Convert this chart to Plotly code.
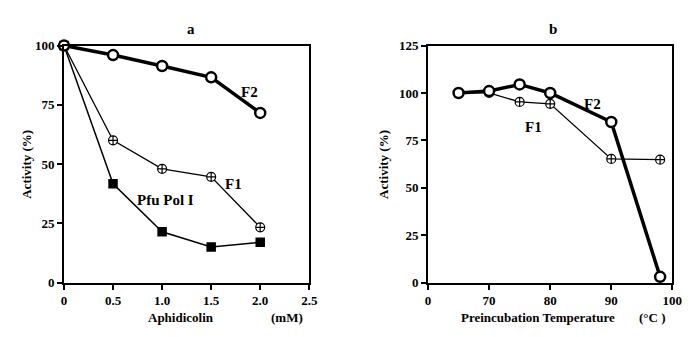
import plotly.graph_objects as go

# Panel a: Aphidicolin (mM)
aph_conc = [0, 0.5, 1.0, 1.5, 2.0]
a_f2 = [100, 96, 91.4, 86.6, 71.6]
a_f1 = [100, 60, 48, 44.6, 23.3]
a_pfu = [100, 41.7, 21.4, 15, 17]
a_xticks = [0, 0.5, 1.0, 1.5, 2.0, 2.5]
a_xticktext = ["0", "0.5", "1.0", "1.5", "2.0", "2.5"]
a_yticks = [0, 25, 50, 75, 100]

# Panel b: Preincubation temperature (°C)
temp = [65, 70, 75, 80, 90, 98]
b_f2 = [100, 101, 104.5, 100, 84.7, 3]
b_f1 = [100, 100, 95.3, 94.3, 65.2, 64.8]
b_xticks = [60, 70, 80, 90, 100]
b_xticktext = ["0", "70", "80", "90", "100"]
b_yticks = [0, 25, 50, 75, 100, 125]

FONT = "Liberation Serif"
fig = go.Figure()

def add(x, y, xa, ya, lw, sym, size, mlw, fill="white"):
    fig.add_trace(go.Scatter(
        x=x, y=y, xaxis=xa, yaxis=ya, mode="lines+markers",
        line=dict(color="black", width=lw),
        marker=dict(symbol=sym, size=size, color=fill,
                    line=dict(color="black", width=mlw)),
        cliponaxis=False, showlegend=False))

add(aph_conc, a_pfu, "x", "y", 1.5, "square-x", 8, 1.5, "black")
add(aph_conc, a_f1, "x", "y", 1.3, "circle-cross", 9, 1.2)
add(aph_conc, a_f2, "x", "y", 3.5, "circle", 10, 2.5)

add(temp, b_f1, "x2", "y2", 1.3, "circle-cross", 9, 1.2)
add(temp, b_f2, "x2", "y2", 3.5, "circle", 10, 2.5)

W, H = 692, 337
def px(v): return v / W
def py(v): return (H - v) / H

axis_common = dict(showline=True, mirror=True, linecolor="black", linewidth=2,
                   ticks="outside", ticklen=5, tickwidth=1.5, tickcolor="black",
                   showgrid=False, zeroline=False,
                   tickfont=dict(family=FONT, size=13, color="black", weight="bold"))

fig.update_layout(
    width=W, height=H, margin=dict(l=0, r=0, t=0, b=0),
    paper_bgcolor="white", plot_bgcolor="white",
    font=dict(family=FONT, color="black"),
    xaxis=dict(domain=[px(54), px(304)], range=[0, 2.5], anchor="y",
               tickvals=a_xticks, ticktext=a_xticktext, **axis_common),
    yaxis=dict(domain=[py(280), py(32)], range=[0, 100], anchor="x",
               tickvals=a_yticks, **axis_common),
    xaxis2=dict(domain=[px(425), px(674)], range=[60, 100], anchor="y2",
                tickvals=b_xticks, ticktext=b_xticktext, **axis_common),
    yaxis2=dict(domain=[py(280), py(32)], range=[0, 125], anchor="x2",
                tickvals=b_yticks, **axis_common),
)

bold = dict(family=FONT, size=15, color="black")
small = dict(family=FONT, size=13, color="black")
ann = [
    dict(text="<b>a</b>", x=px(183), y=py(15), xref="paper", yref="paper", font=bold),
    dict(text="<b>b</b>", x=px(552), y=py(15), xref="paper", yref="paper", font=bold),
    dict(text="<b>Activity (%)</b>", x=px(15), y=py(156), xref="paper", yref="paper",
         textangle=-90, font=small),
    dict(text="<b>Activity (%)</b>", x=px(379), y=py(156), xref="paper", yref="paper",
         textangle=-90, font=small),
    dict(text="<b>Aphidicolin</b>", x=px(173), y=py(317), xref="paper", yref="paper", font=small),
    dict(text="<b>(mM)</b>", x=px(281), y=py(317), xref="paper", yref="paper", font=small),
    dict(text="<b>Preincubation Temperature</b>", x=px(537), y=py(317), xref="paper", yref="paper", font=small),
    dict(text="<b>(°C )</b>", x=px(654), y=py(317), xref="paper", yref="paper", font=small),
    dict(text="<b>F2</b>", x=1.89, y=80.6, xref="x", yref="y", font=bold),
    dict(text="<b>F1</b>", x=1.73, y=41.5, xref="x", yref="y", font=bold),
    dict(text="<b>Pfu Pol I</b>", x=1.03, y=35, xref="x", yref="y", font=bold),
    dict(text="<b>F2</b>", x=87, y=94.3, xref="x2", yref="y2", font=bold),
    dict(text="<b>F1</b>", x=77.3, y=82, xref="x2", yref="y2", font=bold),
]
for a in ann:
    a.update(showarrow=False, xanchor="center", yanchor="middle")
    fig.add_annotation(**a)

fig.write_html("out.html")
